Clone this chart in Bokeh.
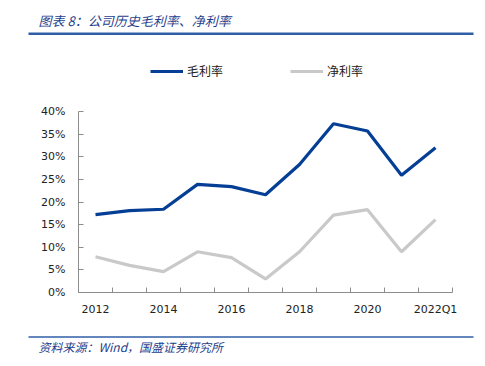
from bokeh.plotting import figure
from bokeh.models import (Range1d, FixedTicker, NumeralTickFormatter, Legend, LegendItem)
from bokeh.core.properties import value
from bokeh.embed import file_html
from bokeh.resources import INLINE

years = ["2012", "2013", "2014", "2015", "2016", "2017", "2018", "2019", "2020", "2021", "2022Q1"]
gross_margin = [17.2, 18.1, 18.4, 23.9, 23.4, 21.6, 28.3, 37.3, 35.7, 25.9, 32.0]
net_margin = [7.9, 6.0, 4.6, 9.0, 7.7, 3.0, 9.0, 17.1, 18.3, 9.0, 16.1]
shown_labels = ["2012", "2014", "2016", "2018", "2020", "2022Q1"]
y_ticks = [0, 0.05, 0.10, 0.15, 0.20, 0.25, 0.30, 0.35, 0.40]
title_text = "图表 8：公司历史毛利率、净利率"
source_text = "资料来源：Wind，国盛证券研究所"

n = len(years)
xs = [i + 0.5 for i in range(n)]
g = [v / 100 for v in gross_margin]
nm = [v / 100 for v in net_margin]

BLUE = "#053F95"
GRAY = "#C9C9C9"
AXIS = "#8C8C8C"
TXT = "#1F3E8C"
RULE = "#2F5EA6"
W, H = 485, 366
F_LEFT, F_RIGHT, F_TOP, F_BOTTOM = 78, 452, 45, 292   # frame edges (px)
Y40 = 111                                              # px of the 40% tick
y_end = 0.4 * (F_BOTTOM - F_TOP) / (F_BOTTOM - Y40)

p = figure(width=W, height=H, x_range=Range1d(0, n), y_range=Range1d(0, y_end),
           output_backend="svg", toolbar_location=None,
           min_border_left=F_LEFT, min_border_right=W - F_RIGHT,
           min_border_top=F_TOP, min_border_bottom=H - F_BOTTOM)
p.outline_line_color = None
p.xgrid.visible = False
p.ygrid.visible = False
# pixel-based helper ranges for the header/footer decorations
p.extra_x_ranges = {"px": Range1d(F_LEFT, F_RIGHT)}
p.extra_y_ranges = {"py": Range1d(F_BOTTOM, F_TOP)}

r1 = p.line(xs, g, line_color=BLUE, line_width=3.2)
r2 = p.line(xs, nm, line_color=GRAY, line_width=3.2)

label_pos = {xs[years.index(l)]: l for l in shown_labels}
p.xaxis.ticker = FixedTicker(ticks=list(label_pos.keys()), minor_ticks=list(range(n + 1)))
p.xaxis.major_label_overrides = label_pos
p.xaxis.major_tick_line_color = None
p.xaxis.major_tick_in = 0
p.xaxis.major_tick_out = 0
p.xaxis.minor_tick_line_color = AXIS
p.xaxis.minor_tick_in = 5
p.xaxis.minor_tick_out = 0
p.xaxis.axis_line_color = AXIS
p.xaxis.major_label_standoff = 10
p.xaxis.major_label_text_font = "DejaVu Sans"
p.xaxis.major_label_text_font_size = "11px"
p.xaxis.major_label_text_color = "#222222"

p.yaxis.ticker = FixedTicker(ticks=y_ticks)
p.yaxis.bounds = (0, 0.4)
p.yaxis.formatter = NumeralTickFormatter(format="0%")
p.yaxis.axis_line_color = AXIS
p.yaxis.major_tick_line_color = AXIS
p.yaxis.major_tick_in = 5
p.yaxis.major_tick_out = 0
p.yaxis.minor_tick_line_color = None
p.yaxis.major_label_standoff = 13
p.yaxis.major_label_text_font = "DejaVu Sans"
p.yaxis.major_label_text_font_size = "11px"
p.yaxis.major_label_text_color = "#222222"

legend = Legend(items=[LegendItem(label="毛利率", renderers=[r1]),
                       LegendItem(label="净利率", renderers=[r2])],
                orientation="horizontal", location=(150 - F_LEFT, F_BOTTOM - 79),
                glyph_width=33, glyph_height=16, label_height=16, label_standoff=4,
                spacing=67, padding=0, margin=0,
                border_line_color=None, background_fill_alpha=0,
                label_text_font="Noto Sans CJK SC", label_text_font_size="12px",
                label_text_color="#222222")
p.add_layout(legend)

# header and footer (drawn unclipped on the overlay level)
deco = dict(x_range_name="px", y_range_name="py", level="overlay")
p.text(x=[38], y=[20], text=[title_text], text_font=value("Noto Sans CJK SC"),
       text_font_size="13px", text_font_style="italic", text_color=TXT,
       text_baseline="middle", **deco)
p.segment(x0=[28], x1=[473], y0=[33.2], y1=[33.2], line_color=RULE, line_width=2.5, **deco)
p.segment(x0=[28], x1=[473], y0=[336.5], y1=[336.5], line_color=RULE, line_width=1.5, **deco)
p.text(x=[38], y=[346], text=[source_text], text_font=value("Noto Sans CJK SC"),
       text_font_size="12px", text_font_style="italic", text_color=TXT,
       text_baseline="middle", **deco)

open("out.html", "w").write(file_html(p, INLINE))
